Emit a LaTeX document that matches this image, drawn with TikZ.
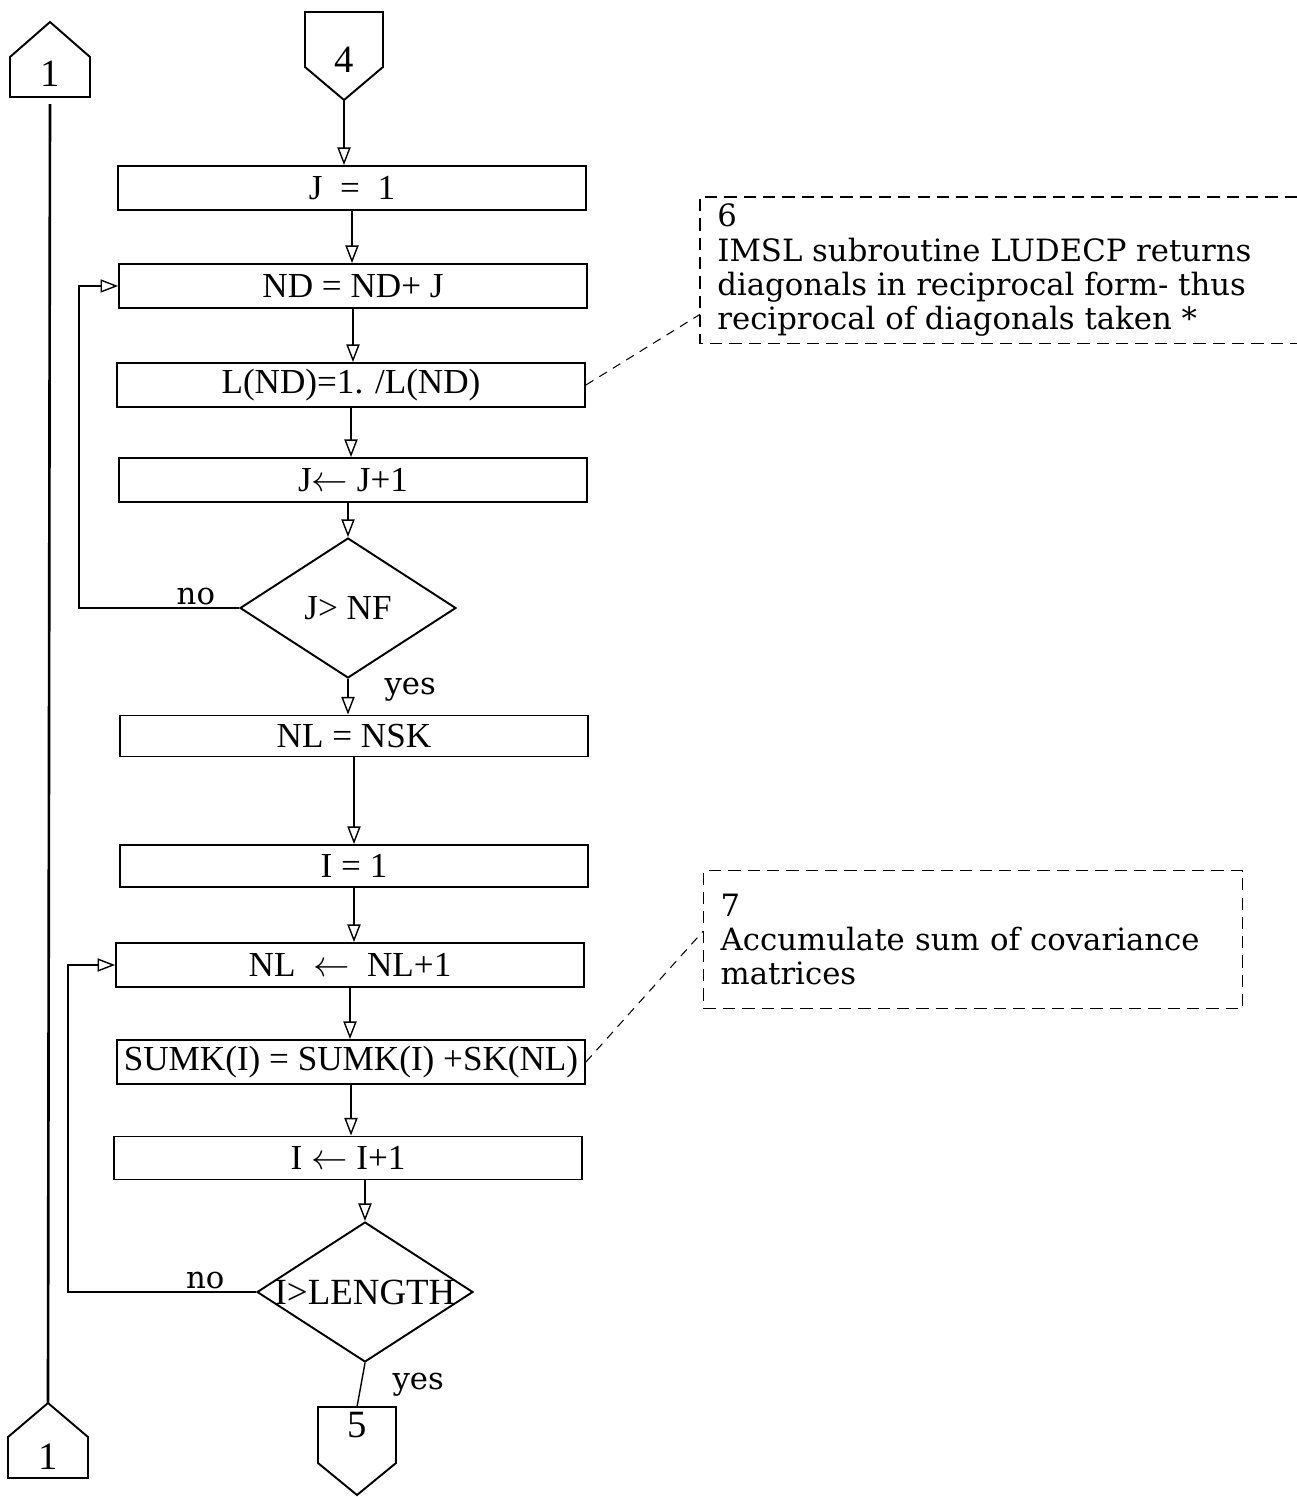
\documentclass[tikz,border=0pt]{standalone}
\usepackage{fontspec}
\usepackage{tikz}
\usetikzlibrary{arrows.meta,positioning,shapes.geometric,calc}
\setmainfont{Liberation Serif}
\newfontfamily\notefont{DejaVu Serif}

\begin{document}
\begin{tikzpicture}[x=0.02cm, y=-0.02cm]
            \tikzset{
                stepbox/.style={
                    draw,
                    line width=1.1pt,
                    minimum width=9.36cm,
                    minimum height=0.88cm,
                    inner sep=0pt,
                    font=\fontsize{20}{22}\selectfont
                }
            }
            \tikzset{
                decision/.style={
                    draw,
                    diamond,
                    line width=1.1pt,
                    minimum width=4.32cm,
                    minimum height=2.8cm,
                    inner sep=0pt,
                    label={[font=\fontsize{20}{22}\selectfont]center:#1}
                }
            }
            \tikzset{
                offpage/.style={
                    inner sep=0pt,
                    font=\fontsize{22}{24}\selectfont
                }
            }
            \tikzset{
                flow/.style={
                    line width=0.8pt,
                    -{Triangle[open, length=10pt, width=7.5pt]}
                }
            }
            \tikzset{
                tag/.style={
                    font=\notefont\fontsize{17.5}{19.5}\selectfont
                }
            }
            \tikzset{
                notebox/.style={
                    line width=0.8pt,
                    dash pattern=on 7pt off 4pt
                }
            }
            \tikzset{
                leader/.style={
                    line width=0.6pt,
                    dash pattern=on 5pt off 4pt
                }
            }

            \useasboundingbox (0,0) rectangle (1297,1497);
            \coordinate (rim) at (1297,0);

            % main column
            \node[stepbox] (j1) at (352,188) {J \ = \ 1};
            \node[stepbox] (nd) at (353,286) {ND = ND+ J};
            \node[stepbox] (lnd) at (351,385) {L(ND)=1. /L(ND)};
            \node[stepbox] (jinc) at (353,480) {J$\leftarrow$ J+1};
            \node[decision=J> NF] (d1) at (348,608) {};
            \node[stepbox, minimum height=0.82cm] (nlsk) at (354,736) {NL = NSK};
            \node[stepbox, minimum height=0.84cm] (i1) at (354,866) {I = 1};
            \node[stepbox] (nlinc) at (350,965) {NL \ $\leftarrow$ \ NL+1};
            \node[stepbox] (sumk) at (351,1062) {SUMK(I) = SUMK(I) +SK(NL)};
            \node[stepbox, minimum height=0.86cm] (iinc) at (348,1158) {I $\leftarrow$ I+1};
            \node[decision={\fontsize{21}{23}\selectfont I>LENGTH}] (d2) at (365,1292) {};

            % off-page connectors
            \node[offpage] (c1a) at (50,74) {1};
            \draw[line width=1.1pt] (c1a.center) ++(0,-52) -- ++(40,35) -- ++(0,40)
                -- ++(-40,0) coordinate (c1abot) -- ++(-40,0) -- ++(0,-40) -- cycle;

            \node[offpage] (c1b) at (48,1457) {1};
            \draw[line width=1.1pt] (c1b.center) ++(0,-54) coordinate (c1bapex) -- ++(40,34)
                -- ++(0,41) -- ++(-80,0) -- ++(0,-41) -- cycle;

            \node[offpage] (c4) at (344,60) {4};
            \draw[line width=1.1pt] (c4.center) ++(-39,-48) -- ++(78,0) -- ++(0,55)
                -- ++(-39,33) coordinate (c4tip) -- ++(-39,-33) -- cycle;

            \node[offpage] (c5) at (357,1425) {5};
            \draw[line width=1.1pt] (c5.center) ++(0,-18) coordinate (c5top) -- ++(39,0)
                -- ++(0,56) -- ++(-39,32) -- ++(-39,-32) -- ++(0,-56) -- cycle;

            \draw[line width=1.5pt, shorten <=4pt] (c1abot) -- (c1bapex);

            % flow
            \draw[flow] (c4tip) -- (c4tip |- j1.north);
            \draw[flow] (j1.south) -- (j1.south |- nd.north);
            \draw[flow] (nd.south) -- (nd.south |- lnd.north);
            \draw[flow] (lnd.south) -- (lnd.south |- jinc.north);
            \draw[flow] (jinc.south -| d1.north) -- (d1.north);
            \draw[flow] (d1.south) -- node[tag, anchor=west, xshift=0.6cm, pos=0.3] {yes} (d1.south |- nlsk.north);
            \draw[flow] (nlsk.south) -- (nlsk.south |- i1.north);
            \draw[flow] (i1.south) -- (i1.south |- nlinc.north);
            \draw[flow] (nlinc.south) -- (nlinc.south |- sumk.north);
            \draw[flow] (sumk.south) -- (sumk.south |- iinc.north);
            \draw[flow] (iinc.south -| d2.north) -- (d2.north);
            \draw[line width=0.8pt] (d2.south) -- node[tag, anchor=west, xshift=0.5cm] {yes} (c5top);

            % loops back
            \draw[flow] (d1.west) -- node[tag, above, pos=0.27, yshift=-2pt] {no} ++(-160,0) |- (nd.west);
            \draw[flow] (d2.west) -- node[tag, above, pos=0.27, yshift=-2pt] {no} ++(-188,0) |- (nlinc.west);

            % remarks
            \node[tag, anchor=north west, align=left, inner xsep=0.34cm, minimum height=2.92cm] (note6) at (700,197)
                {6\\IMSL subroutine LUDECP returns\\diagonals in reciprocal form- thus\\reciprocal of diagonals taken *};
            \draw[notebox] (note6.north west -| rim) -- (note6.north west) -- (note6.south west) -- (note6.south west -| rim);
            \draw[leader] (lnd.east) -- ($(note6.south west)!0.2!(note6.north west)$);

            \node[tag, draw, notebox, anchor=north west, align=left, text width=10.1cm, inner xsep=0.34cm, minimum height=2.76cm] (note7) at (703,870)
                {7\\Accumulate sum of covariance\\matrices};
            \draw[leader] (sumk.east) -- ($(note7.south west)!0.56!(note7.north west)$);
\end{tikzpicture}
\end{document}
